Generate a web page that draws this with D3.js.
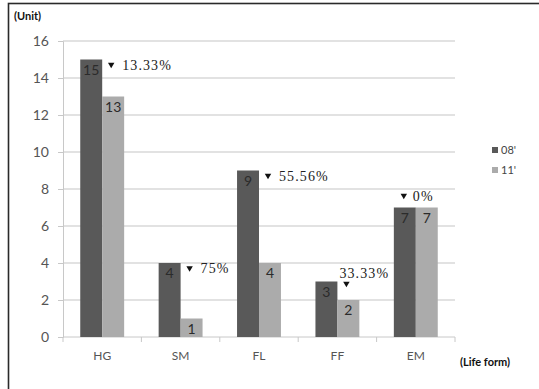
<!DOCTYPE html>
<html>
<head>
<meta charset="utf-8">
<script src="https://cdn.jsdelivr.net/npm/d3@7"></script>
<style>
  html, body { margin: 0; padding: 0; background: #fff; }
  svg { display: block; }
</style>
</head>
<body>
<script>
// Life-form counts for two survey years
const categories = ["HG", "SM", "FL", "FF", "EM"];
const seriesNames = ["08'", "11'"];
const values08 = [15, 4, 9, 3, 7];
const values11 = [13, 1, 4, 2, 7];
const changeLabels = ["13.33%", "75%", "55.56%", "33.33%", "0%"];
const yTicks = [0, 2, 4, 6, 8, 10, 12, 14, 16];

const W = 539, H = 389;
const colors = ["#595959", "#ababab"];
const serif = "'Liberation Serif', 'DejaVu Serif', serif";
const sans = "Lato, 'Open Sans', sans-serif";

const svg = d3.select("body").append("svg").attr("width", W).attr("height", H);

// outer frame
svg.append("rect").attr("x", 8.5).attr("y", 3.5).attr("width", 700).attr("height", 700)
  .attr("fill", "none").attr("stroke", "#2a2a2a").attr("stroke-width", 1.6);

const plot = { left: 63, right: 455, top: 41, bottom: 337 };

const y = d3.scaleLinear().domain([0, 16]).range([plot.bottom, plot.top]);
const x0 = d3.scaleBand().domain(categories).range([plot.left, plot.right])
  .paddingInner(0.44).paddingOuter(0.22);
const x1 = d3.scaleBand().domain(seriesNames).range([0, x0.bandwidth()]);

// gridlines
svg.append("g").selectAll("line").data(yTicks.filter(d => d > 0)).join("line")
  .attr("x1", plot.left).attr("x2", plot.right)
  .attr("y1", d => y(d)).attr("y2", d => y(d))
  .attr("stroke", "#d9d9d9").attr("stroke-width", 1.5);

// y axis
const yAxis = svg.append("g").attr("transform", `translate(${plot.left},0)`)
  .call(d3.axisLeft(y).tickValues(yTicks).tickSize(5).tickPadding(9));
yAxis.select(".domain").attr("stroke", "#c8c8c8");
yAxis.selectAll(".tick line").attr("stroke", "#c8c8c8");
yAxis.selectAll("text").attr("font-family", sans).attr("font-size", 14).attr("fill", "#555");

// x axis with ticks between categories
const xAxisG = svg.append("g").attr("transform", `translate(0,${plot.bottom})`);
xAxisG.append("line").attr("x1", plot.left).attr("x2", plot.right)
  .attr("stroke", "#c8c8c8").attr("stroke-width", 1);
const step = x0.step();
xAxisG.selectAll("line.tk").data(d3.range(categories.length + 1)).join("line")
  .attr("class", "tk")
  .attr("x1", i => plot.left + i * step).attr("x2", i => plot.left + i * step)
  .attr("y1", 0).attr("y2", 5).attr("stroke", "#c8c8c8");
xAxisG.selectAll("text").data(categories).join("text")
  .attr("x", d => x0(d) + x0.bandwidth() / 2).attr("y", 23)
  .attr("text-anchor", "middle").attr("font-family", sans).attr("font-size", 12)
  .attr("fill", "#555").text(d => d);

// bars
const rows = categories.map((c, i) => ({ cat: c, vals: [values08[i], values11[i]], change: changeLabels[i], i }));
const groups = svg.append("g").selectAll("g").data(rows).join("g")
  .attr("transform", d => `translate(${x0(d.cat)},0)`);

groups.selectAll("rect").data(d => d.vals.map((v, k) => ({ v, k }))).join("rect")
  .attr("x", d => x1(seriesNames[d.k])).attr("width", x1.bandwidth())
  .attr("y", d => y(d.v)).attr("height", d => y(0) - y(d.v))
  .attr("fill", d => colors[d.k]);

// value labels near bar tops
groups.selectAll("text.val").data(d => d.vals.map((v, k) => ({ v, k }))).join("text")
  .attr("class", "val")
  .attr("x", d => x1(seriesNames[d.k]) + x1.bandwidth() / 2)
  .attr("y", d => Math.min(y(d.v) + 15, y(0) + 8))
  .attr("text-anchor", "middle").attr("font-family", sans).attr("font-size", 14)
  .attr("fill", "#2b2b2b").text(d => d.v);

// decrease markers: triangle + percent
const tri = d3.symbol().type(d3.symbolTriangle).size(18);
rows.forEach(r => {
  const barRight = x0(r.cat) + x1(seriesNames[0]) + x1.bandwidth();
  const top = y(r.vals[0]);
  const last = r.i === categories.length - 1;
  const g = svg.append("g");
  const path = g.append("path").attr("d", tri).attr("fill", "#111");
  const label = g.append("text")
    .attr("font-family", serif).attr("font-size", 14).attr("letter-spacing", 1.1)
    .attr("fill", "#222").text(r.change);
  const tw = label.node().getComputedTextLength();
  // a label to the right is blocked when it runs into a taller next pair
  const blocked = !last &&
    barRight + 20 + tw > x0(categories[r.i + 1]) &&
    y(Math.max(values08[r.i + 1], values11[r.i + 1])) < top + 10;
  let tx, ty, lx, ly;
  if (last) {
    const cx = x0(r.cat) + x0.bandwidth() / 2;
    tx = cx - 12; ty = y(Math.max(...r.vals)) - 12;
    lx = tx + 9; ly = ty + 5;
  } else if (blocked) {
    tx = barRight + 9; ty = top + 2;
    lx = tx - 7; ly = ty - 6;
  } else {
    tx = barRight + 9; ty = top + 5;
    lx = tx + 11; ly = ty + 5;
  }
  path.attr("transform", `translate(${tx},${ty}) rotate(180)`);
  label.attr("x", lx).attr("y", ly);
});

// legend
const leg = svg.append("g").attr("transform", "translate(492,147)");
seriesNames.forEach((s, k) => {
  leg.append("rect").attr("x", 0).attr("y", k * 20).attr("width", 6).attr("height", 6)
    .attr("fill", colors[k]);
  leg.append("text").attr("x", 9).attr("y", k * 20 + 7).attr("font-family", sans)
    .attr("font-size", 11).attr("fill", "#444").text(s);
});

// axis titles
svg.append("text").attr("x", 14).attr("y", 20).attr("font-family", sans)
  .attr("font-weight", "bold").attr("font-size", 11).attr("fill", "#111").text("(Unit)");
svg.append("text").attr("x", 460).attr("y", 366).attr("font-family", sans)
  .attr("font-weight", "bold").attr("font-size", 11).attr("fill", "#111").text("(Life form)");
</script>
</body>
</html>
